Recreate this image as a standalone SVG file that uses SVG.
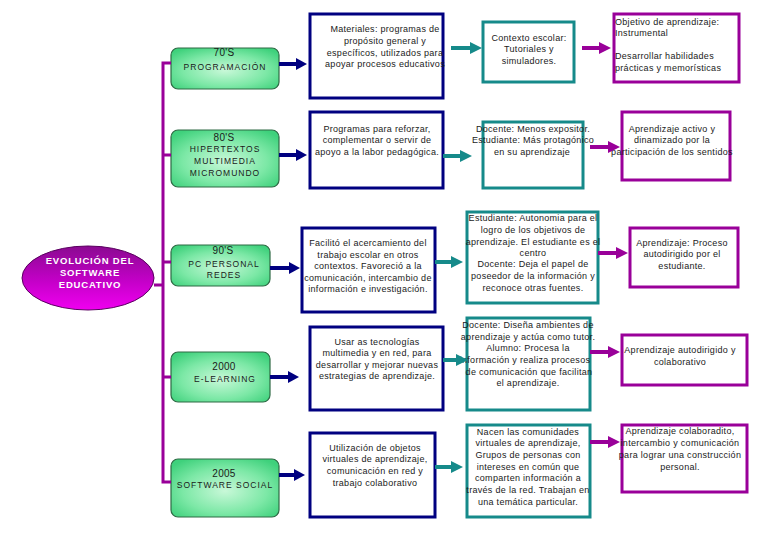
<svg xmlns="http://www.w3.org/2000/svg" width="768" height="543" viewBox="0 0 768 543">
<defs>
<radialGradient id="gGreen" cx="50%" cy="55%" r="65%">
<stop offset="0" stop-color="#c8f8d8"/>
<stop offset="0.6" stop-color="#7ce8a6"/>
<stop offset="1" stop-color="#3fd17c"/>
</radialGradient>
<linearGradient id="gEll" x1="0" y1="0" x2="0" y2="1">
<stop offset="0" stop-color="#8a0a90"/>
<stop offset="0.55" stop-color="#c400c8"/>
<stop offset="1" stop-color="#f000f0"/>
</linearGradient>
<marker id="mNavy" markerUnits="userSpaceOnUse" markerWidth="12" markerHeight="12" refX="0" refY="6" orient="auto"><path d="M0,0 L11,6 L0,12 z" fill="#000080"/></marker>
<marker id="mTeal" markerUnits="userSpaceOnUse" markerWidth="12" markerHeight="12" refX="0" refY="6" orient="auto"><path d="M0,0 L12,6 L0,12 z" fill="#168a8a"/></marker>
<marker id="mPurp" markerUnits="userSpaceOnUse" markerWidth="12" markerHeight="12" refX="0" refY="6" orient="auto"><path d="M0,0 L12,6 L0,12 z" fill="#990099"/></marker>
</defs>
<style>
text{font-family:"Liberation Sans",Arial,sans-serif;fill:#1a1a1a;font-size:9px;letter-spacing:0.3px}
.c{text-anchor:middle}
.green{fill:url(#gGreen);stroke:#2f6a45;stroke-width:1.2}
.gl{font-size:8.5px;letter-spacing:1px;text-anchor:middle}
.gy{font-size:10px;letter-spacing:0.3px;text-anchor:middle}
.blue{fill:#fff;stroke:#000080;stroke-width:3}
.teal{fill:#fff;stroke:#168a8a;stroke-width:3}
.purp{fill:#fff;stroke:#990099;stroke-width:3}
.et{fill:#fff;font-weight:bold;font-size:9.5px;letter-spacing:0.8px;text-anchor:middle}
.tree{stroke:#990099;stroke-width:3;fill:none}
.an{stroke:#000080;stroke-width:4;marker-end:url(#mNavy)}
.at{stroke:#168a8a;stroke-width:4;marker-end:url(#mTeal)}
.ap{stroke:#990099;stroke-width:4;marker-end:url(#mPurp)}
</style>
<rect width="768" height="543" fill="#fff"/>

<g id="root">
<ellipse cx="88" cy="278" rx="66" ry="32" fill="url(#gEll)" stroke="#5a0060" stroke-width="1"/>
<text class="et" x="90" y="264">EVOLUCIÓN DEL</text>
<text class="et" x="90" y="276">SOFTWARE</text>
<text class="et" x="90" y="288">EDUCATIVO</text>
</g>

<g id="era70">
<rect class="green" x="171" y="48" width="108" height="41" rx="7"/>
<text class="gy" x="224" y="56">70'S</text>
<text class="gl" x="225" y="70">PROGRAMACIÓN</text>
</g>
<g id="era80">
<rect class="green" x="171" y="130" width="108" height="57" rx="7"/>
<text class="gy" x="224" y="141">80'S</text>
<text class="gl" x="225" y="152">HIPERTEXTOS</text>
<text class="gl" x="225" y="164">MULTIMEDIA</text>
<text class="gl" x="225" y="176">MICROMUNDO</text>
</g>
<g id="era90">
<rect class="green" x="171" y="245" width="99" height="41" rx="7"/>
<text class="gy" x="223" y="254">90'S</text>
<text class="gl" x="224" y="267">PC PERSONAL</text>
<text class="gl" x="224" y="278">REDES</text>
</g>
<g id="era2000">
<rect class="green" x="171" y="352" width="99" height="50" rx="7"/>
<text class="gy" x="224" y="370">2000</text>
<text class="gl" x="225" y="382">E-LEARNING</text>
</g>
<g id="era2005">
<rect class="green" x="171" y="459" width="108" height="58" rx="7"/>
<text class="gy" x="224" y="477">2005</text>
<text class="gl" x="225" y="488">SOFTWARE SOCIAL</text>
</g>

<g id="mat1">
<rect class="blue" x="310" y="14" width="133" height="84"/>
<text class="c" x="385" y="32">Materiales: programas de</text>
<text class="c" x="385" y="44">propósito general y</text>
<text class="c" x="385" y="56">específicos, utilizados para</text>
<text class="c" x="385" y="67">apoyar procesos educativos</text>
</g>
<g id="ctx1">
<rect class="teal" x="483" y="22" width="91" height="60"/>
<text class="c" x="529" y="41">Contexto escolar:</text>
<text class="c" x="529" y="52">Tutoriales y</text>
<text class="c" x="529" y="64">simuladores.</text>
</g>
<g id="obj1">
<rect class="purp" x="614" y="14" width="125" height="68"/>
<text x="615" y="25">Objetivo de aprendizaje:</text>
<text x="615" y="36">Instrumental</text>
<text x="615" y="59">Desarrollar  habilidades</text>
<text x="615" y="71">prácticas y memorísticas</text>
</g>

<g id="mat2">
<rect class="blue" x="310" y="112" width="133" height="76"/>
<text class="c" x="377" y="132">Programas para reforzar,</text>
<text class="c" x="377" y="143">complementar o servir de</text>
<text class="c" x="377" y="155">apoyo a la labor pedagógica.</text>
</g>
<g id="ctx2">
<rect class="teal" x="483" y="122" width="100" height="66"/>
<text class="c" x="533" y="132">Docente: Menos expositor.</text>
<text class="c" x="533" y="143">Estudiante: Más protagónico</text>
<text class="c" x="532" y="155">en su aprendizaje</text>
</g>
<g id="obj2">
<rect class="purp" x="622" y="112" width="108" height="68"/>
<text class="c" x="672" y="132">Aprendizaje activo y</text>
<text class="c" x="672" y="143">dinamizado por la</text>
<text class="c" x="672" y="155">participación de los sentidos</text>
</g>

<g id="mat3">
<rect class="blue" x="302" y="228" width="133" height="84"/>
<text class="c" x="368" y="246">Facilitó el acercamiento del</text>
<text class="c" x="368" y="258">trabajo escolar en otros</text>
<text class="c" x="368" y="269">contextos.  Favoreció a la</text>
<text class="c" x="368" y="281">comunicación, intercambio de</text>
<text class="c" x="368" y="292">información e investigación.</text>
</g>
<g id="ctx3">
<rect class="teal" x="467" y="212" width="131" height="91"/>
<text class="c" x="533" y="221">Estudiante: Autonomia para el</text>
<text class="c" x="533" y="233">logro de los objetivos de</text>
<text class="c" x="533" y="245">aprendizaje. El estudiante es el</text>
<text class="c" x="533" y="256">centro</text>
<text class="c" x="533" y="267">Docente: Deja el papel de</text>
<text class="c" x="533" y="279">poseedor de la información y</text>
<text class="c" x="533" y="291">reconoce otras fuentes.</text>
</g>
<g id="obj3">
<rect class="purp" x="630" y="228" width="108" height="59"/>
<text class="c" x="682" y="246">Aprendizaje: Proceso</text>
<text class="c" x="682" y="257">autodirigido por el</text>
<text class="c" x="682" y="269">estudiante.</text>
</g>

<g id="mat4">
<rect class="blue" x="310" y="327" width="133" height="83"/>
<text class="c" x="377" y="345">Usar as tecnologías</text>
<text class="c" x="377" y="356">multimedia y en red, para</text>
<text class="c" x="377" y="368">desarrollar y mejorar nuevas</text>
<text class="c" x="377" y="379">estrategias de aprendizaje.</text>
</g>
<g id="ctx4">
<rect class="teal" x="467" y="318" width="123" height="92"/>
<text class="c" x="528" y="328">Docente: Diseña ambientes de</text>
<text class="c" x="528" y="340">aprendizaje y actúa como tutor.</text>
<text class="c" x="528" y="351">Alumno: Procesa la</text>
<text class="c" x="525" y="363">información y realiza procesos</text>
<text class="c" x="529" y="375">de comunicación que facilitan</text>
<text class="c" x="528" y="386">el aprendizaje.</text>
</g>
<g id="obj4">
<rect class="purp" x="622" y="335" width="125" height="50"/>
<text class="c" x="680" y="353">Aprendizaje autodirigido y</text>
<text class="c" x="680" y="365">colaborativo</text>
</g>

<g id="mat5">
<rect class="blue" x="310" y="433" width="125" height="84"/>
<text class="c" x="375" y="451">Utilización de objetos</text>
<text class="c" x="375" y="462">virtuales de aprendizaje,</text>
<text class="c" x="375" y="474">comunicación en red y</text>
<text class="c" x="375" y="486">trabajo colaborativo</text>
</g>
<g id="ctx5">
<rect class="teal" x="467" y="425" width="123" height="92"/>
<text class="c" x="528" y="435">Nacen  las comunidades</text>
<text class="c" x="528" y="446">virtuales de aprendizaje,</text>
<text class="c" x="528" y="458">Grupos de personas con</text>
<text class="c" x="528" y="470">intereses en común  que</text>
<text class="c" x="528" y="481">comparten información a</text>
<text class="c" x="528" y="493">través de la red. Trabajan en</text>
<text class="c" x="528" y="505">una temática particular.</text>
</g>
<g id="obj5">
<rect class="purp" x="622" y="425" width="125" height="67"/>
<text class="c" x="680" y="434">Aprendizaje colaboradito,</text>
<text class="c" x="680" y="446">intercambio y comunicación</text>
<text class="c" x="680" y="458">para lograr una construcción</text>
<text class="c" x="680" y="470">personal.</text>
</g>

<g id="connectors">
<path class="tree" d="M171,63 H163 V482 H171 M163,155 H171 M163,262 H171 M163,377 H171 M154,285 H163"/>
<line class="an" x1="279" y1="64" x2="296" y2="64"/>
<line class="an" x1="279" y1="155" x2="296" y2="155"/>
<line class="an" x1="270" y1="268" x2="289" y2="268"/>
<line class="an" x1="270" y1="377" x2="288" y2="377"/>
<line class="an" x1="279" y1="475" x2="294" y2="475"/>
<line class="at" x1="451" y1="48" x2="470" y2="48"/>
<line class="at" x1="443" y1="156" x2="460" y2="156"/>
<line class="at" x1="435" y1="262" x2="451" y2="262"/>
<line class="at" x1="443" y1="360" x2="456" y2="360"/>
<line class="at" x1="435" y1="467" x2="451" y2="467"/>
<line class="ap" x1="582" y1="48" x2="599" y2="48"/>
<line class="ap" x1="590" y1="147" x2="608" y2="147"/>
<line class="ap" x1="598" y1="253" x2="616" y2="253"/>
<line class="ap" x1="590" y1="352" x2="608" y2="352"/>
<line class="ap" x1="590" y1="442" x2="608" y2="442"/>
</g>
</svg>
